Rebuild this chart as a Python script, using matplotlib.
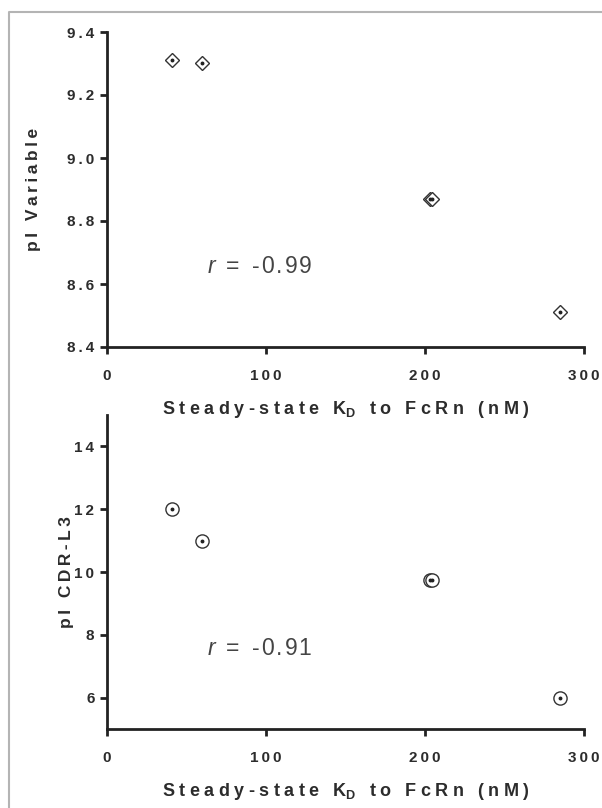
import matplotlib
matplotlib.use('Agg')
import matplotlib.pyplot as plt
from matplotlib.lines import Line2D

# values
kd = [41, 60, 203, 204.6, 285]               # steady-state KD to FcRn (nM)
pi_variable = [9.31, 9.30, 8.87, 8.87, 8.51]
pi_cdrl3 = [12.0, 11.0, 9.75, 9.75, 6.0]
r_top = -0.99
r_bottom = -0.91
x_ticks = [0, 100, 200, 300]
top_yticks = [8.4, 8.6, 8.8, 9.0, 9.2, 9.4]
bottom_yticks = [6, 8, 10, 12, 14]

plt.rcParams['font.family'] = ['Liberation Sans', 'DejaVu Sans']
plt.rcParams['mathtext.fontset'] = 'custom'
plt.rcParams['mathtext.it'] = 'Liberation Sans:italic'
plt.rcParams['mathtext.bf'] = 'Liberation Sans:bold'
plt.rcParams['mathtext.rm'] = 'Liberation Sans'

GAP = '\u2005'   # four-per-em space, letter spacing of the x title
THIN = '\u2009'  # thin space, letter spacing of ticks and y titles
HAIR = '\u200a'
AXC = '#222222'
TXC = '#2c2c2c'


def spaced(s, sep=THIN):
    # letter spacing like the original figure
    return sep.join(s)


fig = plt.figure(figsize=(6.02, 8.08), dpi=100)
W, H = 602.0, 808.0
ax1 = fig.add_axes([107 / W, 1 - 347 / H, 477 / W, 315 / H])
ax2 = fig.add_axes([107 / W, 1 - 729 / H, 477 / W, 314 / H])

# grey frame round the figure (left and top edges visible)
fig.add_artist(Line2D([9 / W, 9 / W, 1.0], [0.0, 1 - 12 / H, 1 - 12 / H],
                      transform=fig.transFigure, color='#b4b4b4', lw=1.5))

xlabel = (spaced('Steady-state K', GAP) + r'$_\mathbf{D}$' + GAP
          + spaced(' to FcRn (nM)', GAP))


def style(ax, yticks, ylim, fmt, ylab, ylab_x):
    ax.set_xlim(0, 300)
    ax.set_ylim(*ylim)
    for side in ('top', 'right'):
        ax.spines[side].set_visible(False)
    for side in ('left', 'bottom'):
        ax.spines[side].set_linewidth(2)
        ax.spines[side].set_color(AXC)
    ax.set_xticks(x_ticks, [spaced(str(v)) for v in x_ticks])
    ax.set_yticks(yticks, [spaced(fmt.format(v)) for v in yticks])
    ax.tick_params(axis='both', length=5, width=2, color=AXC, labelcolor=TXC,
                   labelsize=11)
    ax.tick_params(axis='x', pad=11)
    ax.tick_params(axis='y', pad=4)
    for lab in ax.get_xticklabels() + ax.get_yticklabels():
        lab.set_fontweight('bold')
    ax.set_xlabel(xlabel, fontsize=13, fontweight='bold', color=TXC)
    ax.xaxis.set_label_coords(0.5, -0.165)
    ax.set_ylabel(spaced(ylab), fontsize=12.5, fontweight='bold', color=TXC)
    ax.yaxis.set_label_coords(ylab_x, 0.5)
    ax.patch.set_alpha(0)


def r_label(r):
    return r'$\mathit{r}$ ' + THIN + '=  ' + spaced(f'{r:.2f}', HAIR)


# top panel: pI of variable domain
style(ax1, top_yticks, (8.4, 9.4), '{:.1f}', 'pI Variable', -0.138)
ax1.plot(kd, pi_variable, ls='none', marker='D', ms=7, mfc='white',
         mec='#333333', mew=1.0, clip_on=False)
ax1.plot(kd, pi_variable, ls='none', marker='o', ms=1.8, color='#222222',
         clip_on=False)
ax1.text(63, 8.654, r_label(r_top), fontsize=16.5, color='#444444',
         ha='left', va='center')

# bottom panel: pI of CDR-L3
style(ax2, bottom_yticks, (5, 15), '{:d}', 'pI CDR-L3', -0.07)
ax2.plot(kd, pi_cdrl3, ls='none', marker='o', ms=9.5, mfc='white',
         mec='#333333', mew=1.0, clip_on=False)
ax2.plot(kd, pi_cdrl3, ls='none', marker='o', ms=1.8, color='#222222',
         clip_on=False)
ax2.text(63, 7.55, r_label(r_bottom), fontsize=16.5, color='#444444',
         ha='left', va='center')

fig.savefig('out.png', dpi=100)
